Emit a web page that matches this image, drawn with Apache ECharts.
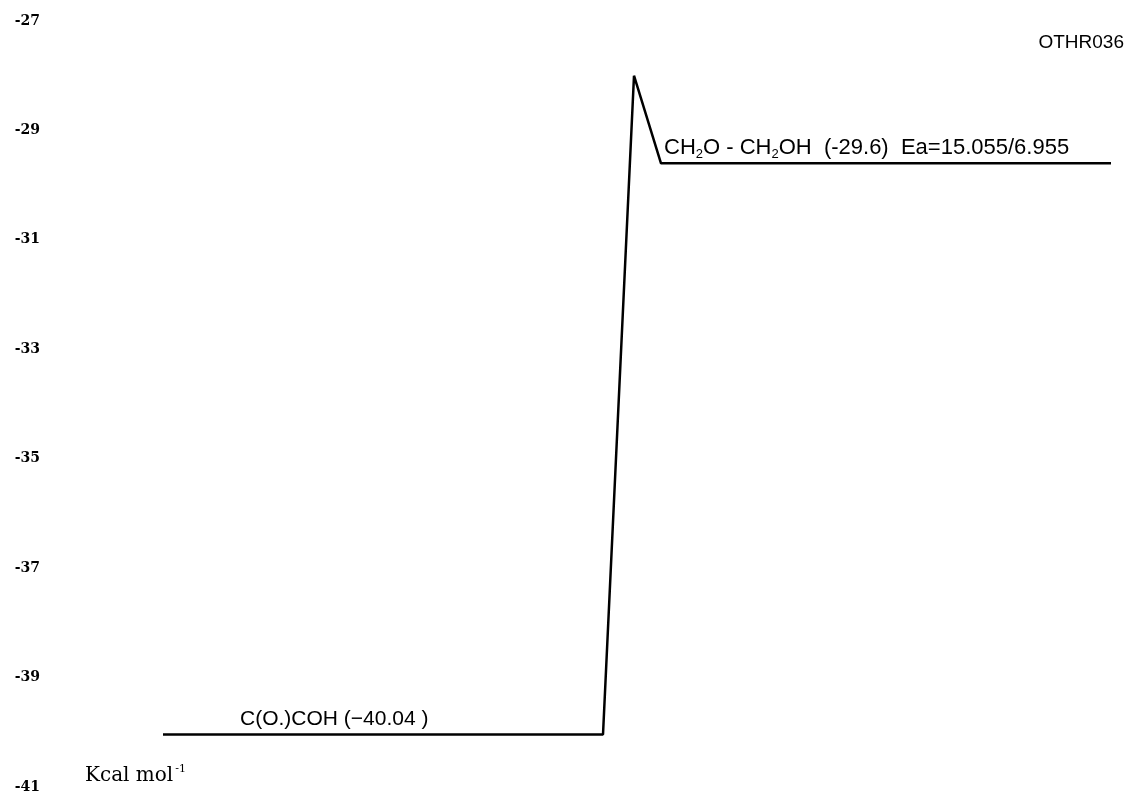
<!DOCTYPE html>
<html>
<head>
<meta charset="utf-8">
<script src="https://cdn.jsdelivr.net/npm/echarts@6/dist/echarts.min.js"></script>
<style>html,body{margin:0;padding:0;background:#fff}#c{width:1143px;height:804px}</style>
</head>
<body>
<div id="c"></div>
<script>
// Reaction coordinate (abstract horizontal units) and energies (kcal/mol)
const pathX = [115, 555, 586, 613, 1063];
const pathE = [-40.04, -40.04, -28.0, -29.6, -29.6];
const yTicks = [-27, -29, -31, -33, -35, -37, -39, -41];
const annotX = [192, 616];
const annotE = [-40.04, -29.6];
const annotText = [
  'C(O.)COH (\u221240.04 )',
  'CH{sub|2}O - CH{sub|2}OH  (-29.6)  Ea=15.055/6.955'
];
const figId = 'OTHR036';
const unitText = 'Kcal mol{sup|-1}';

const chart = echarts.init(document.getElementById('c'), null, {renderer: 'canvas'});
const pathData = pathX.map((x, i) => [x, pathE[i]]);
const annotData = annotX.map((x, i) => ({
  value: [x, annotE[i]], name: annotText[i],
  label: {fontSize: i === 1 ? 22 : 21}
}));

chart.setOption({
  backgroundColor: '#ffffff',
  animation: false,
  title: [
    {text: figId, right: 14, top: 28,
     textStyle: {fontFamily: 'Liberation Sans', fontSize: 19, fontWeight: 'normal', color: '#000'}},
    {text: unitText, left: 80, top: 759,
     textStyle: {fontFamily: 'DejaVu Serif', fontSize: 20, fontWeight: 'normal', color: '#000',
       rich: {sup: {fontSize: 11, verticalAlign: 'top', padding: [0, 0, 12, 2], fontFamily: 'DejaVu Serif', color: '#000'}}}}
  ],
  grid: {left: 48, right: 0, top: 21, bottom: 17, containLabel: false},
  xAxis: {type: 'value', min: 0, max: 1095, show: false},
  yAxis: {
    type: 'value', min: -41, max: -27, interval: 2,
    axisLine: {show: false}, axisTick: {show: false}, splitLine: {show: false},
    axisLabel: {
      margin: 8, color: '#000', fontFamily: 'DejaVu Serif', fontWeight: 'bold', fontSize: 14,
      customValues: yTicks,
      formatter: v => String(v)
    }
  },
  series: [
    {
      type: 'line', data: pathData, symbol: 'none',
      lineStyle: {color: '#000', width: 2.5}, z: 2
    },
    {
      type: 'scatter', data: annotData, symbolSize: 0, z: 3,
      itemStyle: {color: '#000', opacity: 1},
      label: {
        show: true, position: 'inside', align: 'left', verticalAlign: 'middle',
        offset: [0, -15], opacity: 1,
        formatter: p => p.name,
        color: '#000', textBorderWidth: 0, textBorderColor: 'transparent',
        fontFamily: 'Liberation Sans', fontSize: 21,
        rich: {sub: {fontSize: 13, padding: [12, 0, 0, 0], fontFamily: 'Liberation Sans', color: '#000',
                     textBorderWidth: 0}}
      }
    }
  ]
});
</script>
</body>
</html>
